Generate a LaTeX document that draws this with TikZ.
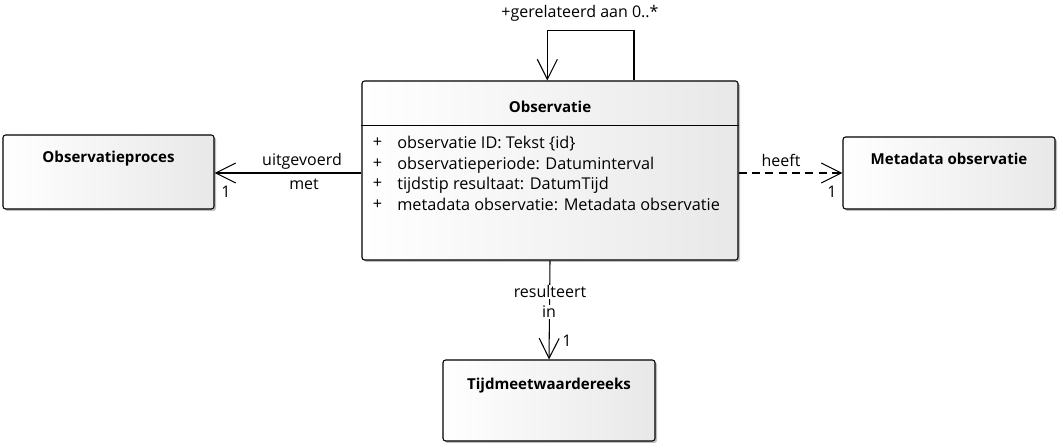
\documentclass[tikz,border=0pt]{standalone}
\usepackage{fontspec}
\setmainfont{Open Sans}
\usepackage{tikz}
\usetikzlibrary{arrows.meta,positioning,shadows}

\begin{document}
\begin{tikzpicture}[
  x=0.75pt, y=-0.75pt,
  font=\fontsize{12}{14}\selectfont,
  classbox/.style={draw, line width=0.8pt, rounded corners=2pt, left color=white, right color=black!9,
    drop shadow={shadow xshift=1.5pt, shadow yshift=-1.5pt, opacity=0.25, fill=black}},
  title/.style={font=\fontsize{11.3}{13}\selectfont\bfseries, inner sep=0pt},
  assoc/.style={line width=0.8pt, -{Straight Barb[length=15pt, width=15pt, line width=0.8pt]}},
  lbl/.style={inner sep=1pt}
]
\useasboundingbox (0,0) rectangle (1063,448);

% classes
\node[classbox, minimum width=282pt, minimum height=134.25pt] (obs) at (550,170.5) {};
\node[classbox, minimum width=158.25pt, minimum height=55.5pt] (proces) at (108.5,172) {};
\node[classbox, minimum width=159pt, minimum height=54pt] (meta) at (949,173) {};
\node[classbox, minimum width=159pt, minimum height=60.75pt] (reeks) at (549,400.5) {};

\node[title, below=15pt of obs.north] (obstitle) {Observatie};
\node[title, below=12pt of proces.north] (procestitle) {Observatieproces};
\node[title, below=12pt of meta.north] (metatitle) {Metadata observatie};
\node[title, below=14pt of reeks.north] (reekstitle) {Tijdmeetwaardereeks};

\draw[line width=0.6pt] ([yshift=-33.75pt]obs.north west) coordinate (sepl) -- ([yshift=-33.75pt]obs.north east);

% attributes
\node[anchor=west, align=left, inner sep=0pt, font=\fontsize{12.2}{15.5}\selectfont] (attrs) at (397,173.5)
  {observatie ID: Tekst \{id\}\\observatieperiode: Datuminterval\\tijdstip resultaat: DatumTijd\\metadata observatie: Metadata observatie};
\node[anchor=east, align=left, inner sep=0pt, font=\fontsize{12.2}{15.5}\selectfont, left=11pt of attrs.west] (plus)
  {+\\+\\+\\+};

% associations
\draw[assoc] ([xshift=63pt]obs.north) -- ++(0,-50) -| ([xshift=-2pt]obs.north);
\node[lbl] (selflbl) at (580,13) {+gerelateerd aan 0..*};

\draw[assoc] (obs.west |- 0,173) coordinate (procstart) -- (proces.east |- procstart);
\node[lbl] (uitg) at (302,161) {uitgevoerd};
\node[lbl, fill=white, inner sep=0.5pt] (met) at (304,184) {met};
\node[lbl] (procmult) at (226,192) {1};

\draw[assoc, dashed, dash pattern=on 6pt off 4pt] (obs.east |- 0,173) coordinate (metastart) -- (meta.west |- metastart);
\node[lbl] (heeft) at (781,160) {heeft};
\node[lbl] (metamult) at (832,192) {1};

\draw[assoc] (obs.south) -- (reeks.north);
\node[lbl, fill=white, inner sep=0.5pt] (res) at (550,292) {resulteert};
\node[lbl, fill=white, inner sep=0.5pt] (in) at (549,312) {in};
\node[lbl] (reeksmult) at (567,341) {1};
\end{tikzpicture}
\end{document}
